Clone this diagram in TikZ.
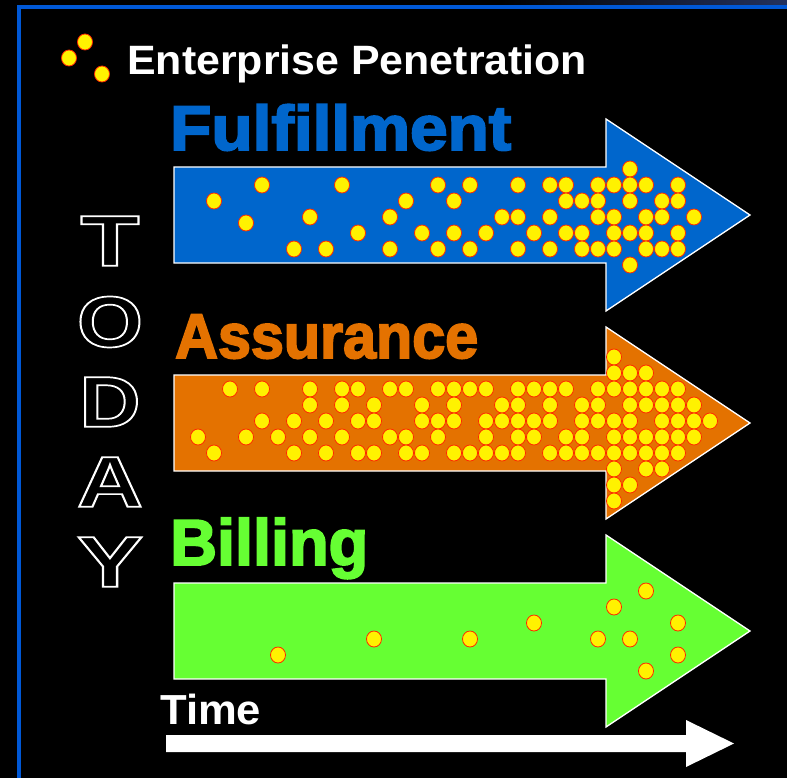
\documentclass[tikz,border=0pt]{standalone}
\usepackage{fontspec}
\setmainfont{Liberation Sans}
\newfontfamily\heavyfont[FakeBold=3]{Liberation Sans Bold}
\usepackage{graphicx}
\newlength\fitlen
\newcommand\fitw[2]{\settowidth{\fitlen}{#2}\pgfmathsetmacro\fitratio{#1/\fitlen}\scalebox{\fitratio}[1]{#2}}
\newcommand\hollow[1]{\special{pdf:literal direct 1 Tr 1.7 w}#1\special{pdf:literal direct 0 Tr}}
\definecolor{fulblue}{RGB}{0,102,204}
\definecolor{assorange}{RGB}{228,114,0}
\definecolor{billgreen}{RGB}{102,255,51}
\definecolor{frameblue}{RGB}{0,88,214}
\definecolor{dotred}{RGB}{255,40,0}
\definecolor{stripblue}{RGB}{35,50,95}
\begin{document}
\begin{tikzpicture}[x=1pt,y=-1pt,
  dot/.style={fill=yellow,draw=dotred,line width=0.8pt},
  bigarrow/.style={draw=white,line width=1.3pt,line join=miter},
  lbl/.style={inner sep=0pt,anchor=base west,text=white},
  todaychar/.style={inner sep=0pt,anchor=center,text=white,font=\bfseries\fontsize{72}{72}\selectfont}
]
\useasboundingbox (0,0) rectangle (787,778);
\fill[black] (0,0) rectangle (787,778);
\shade[left color=black,right color=stripblue] (500,0) rectangle (787,6);
\draw[frameblue,line width=4pt] (19,778) -- (19,7.5) -- (787,7.5);

% legend icon and title
\path[dot] (85,42) ellipse [x radius=7.5pt,y radius=8pt];
\path[dot] (69,58) ellipse [x radius=7.5pt,y radius=8pt];
\path[dot] (102,74) ellipse [x radius=7.5pt,y radius=8pt];
\node[lbl,font=\bfseries\fontsize{41}{41}\selectfont] (ep) at (127,75) {\fitw{460}{Enterprise Penetration}};

% big arrows
\foreach \c/\col in {215/fulblue,423/assorange,631/billgreen}
  \draw[bigarrow,fill=\col] (174,{\c-48}) -- (606,{\c-48}) -- (606,{\c-96}) -- (750,\c)
     -- (606,{\c+96}) -- (606,{\c+48}) -- (174,{\c+48}) -- cycle;

% titles
\node[lbl,text=fulblue,font=\heavyfont\fontsize{63}{63}\selectfont] (fulfil) at (170,150) {\fitw{341}{Fulfillment}};
\node[lbl,text=assorange,font=\heavyfont\fontsize{63}{63}\selectfont] (assur) at (175,358) {\fitw{303}{Assurance}};
\node[lbl,text=billgreen,font=\heavyfont\fontsize{65}{65}\selectfont] (bill) at (170,565) {\fitw{198}{Billing}};

% Fulfillment dots
\foreach \yy/\ks in {169/{26},
    185/{3,8,14,16,19,21,22,24,25,26,27,29},
    201/{0,12,15,22,23,24,26,28,29},
    217/{6,11,18,19,21,24,25,27,28,30},
    233/{9,13,15,17,20,22,23,25,26,27,29},
    249/{5,7,11,14,16,19,21,23,24,25,27,28,29},
    265/{26}}
  \foreach \k in \ks
    \path[dot] ({214+16*\k},\yy) ellipse [x radius=7.5pt,y radius=8pt];
\path[dot] (246,223) ellipse [x radius=7.5pt,y radius=8pt];

% Assurance dots
\foreach \yy/\ks in {357/{25},
    373/{25,26,27},
    389/{1,3,6,8,9,11,12,14,15,16,17,19,20,21,22,24,25,26,27,28,29},
    405/{6,8,10,13,15,18,19,21,23,24,26,27,28,29,30},
    421/{3,5,7,9,10,13,14,15,17,18,19,20,21,23,24,25,26,28,29,30,31},
    437/{-1,2,4,6,8,11,12,14,17,19,20,22,23,25,26,27,28,29,30},
    453/{0,5,7,9,10,12,13,15,16,17,18,19,21,22,23,24,25,26,27,28,29},
    469/{25,27,28},
    485/{25,26},
    501/{25}}
  \foreach \k in \ks
    \path[dot] ({214+16*\k},\yy) ellipse [x radius=7.5pt,y radius=8pt];

% Billing dots
\foreach \px/\py in {646/591,614/607,534/623,678/623,374/639,470/639,598/639,630/639,278/655,678/655,646/671}
  \path[dot] (\px,\py) ellipse [x radius=7.5pt,y radius=8pt];

% TODAY outlined letters
\foreach \ch/\yy/\ww [count=\i] in {T/241/59,O/322/66,D/402/61,A/482/66,Y/562/66}
  \node[todaychar] (today\i) at (110,\yy) {\hollow{\fitw{\ww}{\ch}}};

% Time
\node[lbl,font=\bfseries\fontsize{42}{42}\selectfont] (time) at (160,724) {\fitw{101}{Time}};
\coordinate (ts) at (166,743.5);
\coordinate (te) at (734,743.5);
\fill[white] (ts) ++(0,-8.5) -- (686,735) -- (686,720) -- (te) -- (686,767) -- (686,752) -- (166,752) -- cycle;
\end{tikzpicture}
\end{document}
